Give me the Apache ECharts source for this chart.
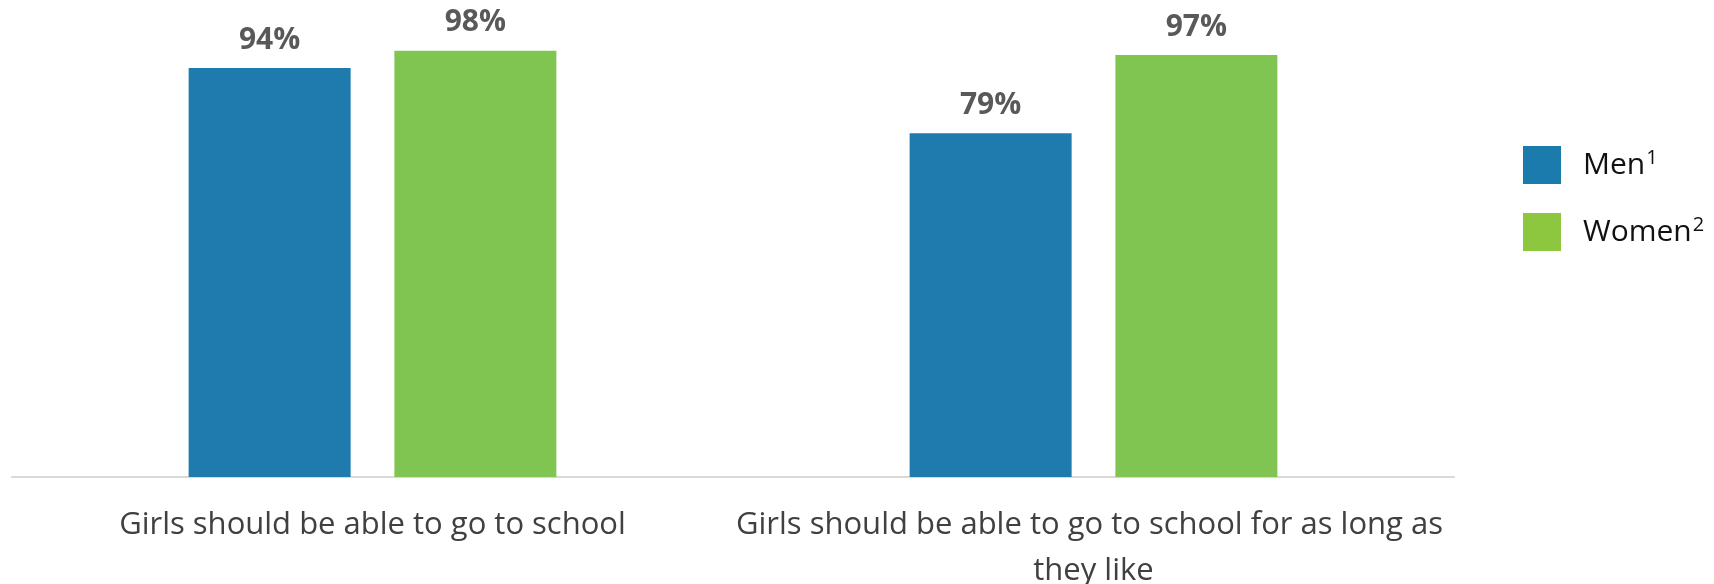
<!DOCTYPE html>
<html>
<head>
<meta charset="utf-8">
<script src="https://cdn.jsdelivr.net/npm/echarts@6/dist/echarts.min.js"></script>
<style>
html,body{margin:0;padding:0;background:#fff;}
#c{width:1714px;height:584px;}
</style>
</head>
<body>
<div id="c"></div>
<script>
const categories = ['Girls should be able to go to school', 'Girls should be able to go to school for as long as they like'];
const menValues = [94, 79];
const womenValues = [98, 97];
const seriesNames = ['Men', 'Women'];
const superscripts = {Men: '1', Women: '2'};

const chart = echarts.init(document.getElementById('c'));
const FONT = '"Open Sans", sans-serif';
const legendText = {
  fontFamily: FONT, fontSize: 30, color: '#111',
  rich: {
    n: {fontFamily: FONT, fontSize: 30, color: '#111', padding: [0, 0, 0, 17]},
    s: {fontFamily: FONT, fontSize: 20, color: '#111', verticalAlign: 'top', padding: [0, 0, 14, 1]}
  }
};
const fmt = name => '{n|' + name + '}{s|' + superscripts[name] + '}';
const labelStyle = {show: true, position: 'top', distance: 13, formatter: '{c}%', fontFamily: FONT, fontSize: 30, fontWeight: 'bold', color: '#595959'};
chart.setOption({
  animation: false,
  grid: {left: 12, right: 260, top: 42, bottom: 107, containLabel: false, outerBoundsMode: 'none'},
  legend: [
    {data: [{name: seriesNames[0], itemStyle: {color: '#1c7bad'}}], icon: 'rect', orient: 'vertical', left: 1518, top: 141,
     itemWidth: 38, itemHeight: 38, formatter: fmt, textStyle: legendText, selectedMode: false},
    {data: [{name: seriesNames[1], itemStyle: {color: '#8dc63f'}}], icon: 'rect', orient: 'vertical', left: 1518, top: 208,
     itemWidth: 38, itemHeight: 38, formatter: fmt, textStyle: legendText, selectedMode: false}
  ],
  xAxis: {
    type: 'category', data: categories,
    axisLine: {show: true, lineStyle: {color: '#d9d9d9', width: 2}},
    axisTick: {show: false},
    axisLabel: {interval: 0, margin: 25, fontFamily: FONT, fontSize: 31, lineHeight: 46, color: '#404040',
      width: 715, overflow: 'break', align: 'center'}
  },
  yAxis: {type: 'value', min: 0, max: 100, show: false, splitLine: {show: false}},
  series: [
    {name: seriesNames[0], type: 'bar', data: menValues, barWidth: 162, barGap: '27%',
     itemStyle: {color: '#1f7bad'}, label: labelStyle},
    {name: seriesNames[1], type: 'bar', data: womenValues, barWidth: 162, barGap: '27%',
     itemStyle: {color: '#80c551'}, label: labelStyle}
  ]
});
</script>
</body>
</html>
